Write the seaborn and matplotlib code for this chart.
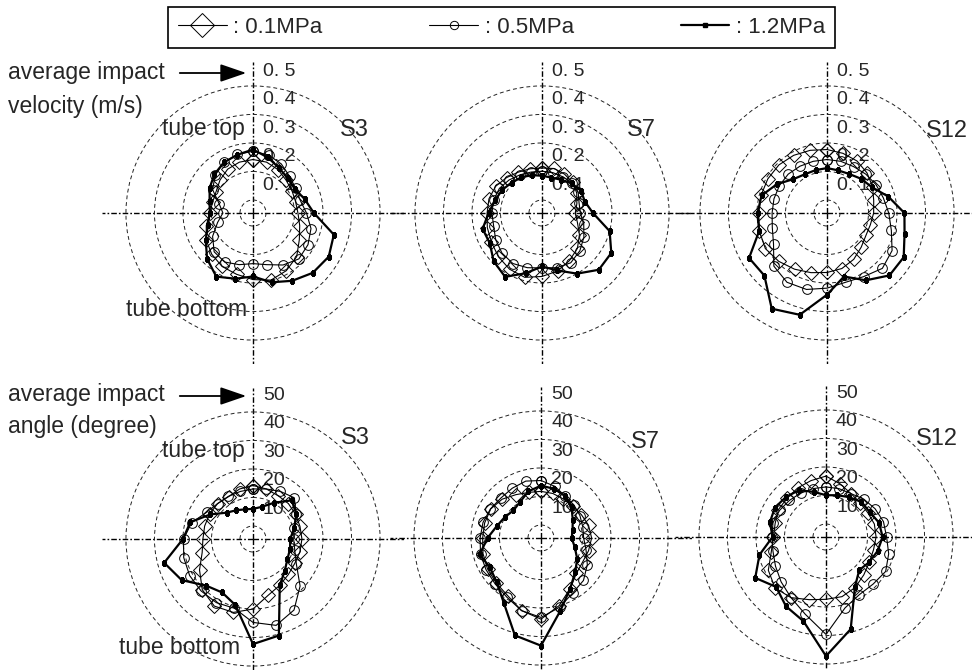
import numpy as np
import pandas as pd
import matplotlib
matplotlib.use("Agg")
import matplotlib.pyplot as plt
import seaborn as sns
from matplotlib.lines import Line2D

# angular position around the tube, degrees clockwise from the tube top
position_deg = np.arange(0, 360, 15)

pressures = ["0.1MPa", "0.5MPa", "1.2MPa"]
sections = ["S3", "S7", "S12"]

# average impact velocity (m/s)
vel_S3_01 = [0.142, 0.139, 0.130, 0.118, 0.112, 0.109, 0.112, 0.124, 0.142, 0.171, 0.188, 0.198,
             0.188, 0.177, 0.171, 0.159, 0.144, 0.124, 0.106, 0.101, 0.104, 0.118, 0.132, 0.139]
vel_S3_05 = [0.171, 0.165, 0.153, 0.136, 0.127, 0.126, 0.142, 0.165, 0.177, 0.182, 0.165, 0.142,
             0.132, 0.142, 0.153, 0.147, 0.118, 0.083, 0.060, 0.077, 0.118, 0.142, 0.159, 0.167]
vel_S3_12 = [0.177, 0.156, 0.137, 0.127, 0.124, 0.142, 0.168, 0.248, 0.261, 0.251, 0.229, 0.206,
             0.177, 0.193, 0.212, 0.182, 0.146, 0.118, 0.106, 0.112, 0.130, 0.146, 0.159, 0.166]

vel_S7_01 = [0.112, 0.116, 0.112, 0.106, 0.095, 0.081, 0.071, 0.083, 0.106, 0.130, 0.147, 0.165,
             0.177, 0.188, 0.182, 0.171, 0.159, 0.153, 0.147, 0.147, 0.142, 0.130, 0.120, 0.115]
vel_S7_05 = [0.101, 0.101, 0.101, 0.104, 0.101, 0.089, 0.089, 0.106, 0.124, 0.142, 0.156, 0.153,
             0.147, 0.153, 0.159, 0.153, 0.142, 0.130, 0.130, 0.130, 0.127, 0.118, 0.109, 0.103]
vel_S7_12 = [0.085, 0.083, 0.089, 0.101, 0.112, 0.110, 0.133, 0.200, 0.235, 0.236, 0.200, 0.163,
             0.142, 0.173, 0.213, 0.194, 0.166, 0.170, 0.142, 0.125, 0.116, 0.105, 0.099, 0.092]

vel_S12_01 = [0.177, 0.171, 0.165, 0.153, 0.139, 0.124, 0.118, 0.112, 0.112, 0.124, 0.142, 0.156,
              0.163, 0.171, 0.182, 0.194, 0.204, 0.200, 0.194, 0.194, 0.194, 0.193, 0.188, 0.182]
vel_S12_05 = [0.142, 0.142, 0.142, 0.147, 0.153, 0.159, 0.171, 0.188, 0.218, 0.229, 0.212, 0.206,
              0.218, 0.232, 0.235, 0.218, 0.171, 0.153, 0.147, 0.147, 0.147, 0.147, 0.144, 0.142]
vel_S12_12 = [0.112, 0.109, 0.112, 0.124, 0.136, 0.177, 0.226, 0.236, 0.265, 0.264, 0.227, 0.185,
              0.241, 0.324, 0.342, 0.265, 0.270, 0.201, 0.198, 0.192, 0.157, 0.122, 0.111, 0.110]

# average impact angle (degree)
ang_S3_01 = [14.2, 13.6, 13.0, 13.0, 12.7, 12.5, 12.6, 12.5, 12.4, 13.0, 14.2, 15.9,
             20.0, 22.1, 22.6, 20.6, 17.1, 13.9, 13.0, 13.0, 13.0, 13.0, 12.6, 13.6]
ang_S3_05 = [13.0, 13.6, 14.7, 15.9, 13.0, 10.4, 9.7, 10.6, 13.0, 18.8, 24.2, 26.8,
             24.7, 20.6, 21.2, 21.2, 21.1, 20.6, 19.8, 17.7, 14.2, 13.0, 12.7, 12.7]
ang_S3_12 = [6.0, 7.1, 10.1, 14.6, 13.0, 10.4, 8.5, 8.9, 9.4, 11.2, 14.2, 30.5,
             32.3, 19.4, 17.1, 18.6, 24.3, 27.7, 20.0, 18.2, 12.7, 8.5, 7.1, 6.2]

ang_S7_01 = [11.8, 11.6, 11.2, 11.2, 11.8, 12.7, 13.2, 12.7, 12.3, 13.0, 15.9, 20.0,
             23.9, 21.8, 18.8, 17.7, 17.1, 16.5, 15.9, 15.9, 15.8, 14.7, 13.0, 12.0]
ang_S7_05 = [15.6, 14.2, 12.4, 11.8, 11.2, 10.6, 10.4, 11.8, 14.2, 16.5, 17.7, 20.6,
             23.3, 21.8, 19.4, 18.2, 17.7, 17.4, 16.8, 16.5, 15.9, 15.3, 15.6, 16.1]
ang_S7_12 = [13.8, 13.3, 12.4, 10.6, 8.3, 6.9, 6.2, 7.7, 10.1, 12.4, 15.9, 21.8,
             33.2, 30.8, 21.6, 17.4, 16.1, 17.7, 14.2, 11.5, 10.1, 9.1, 10.1, 12.4]

ang_S12_01 = [16.8, 14.7, 13.0, 12.4, 12.4, 13.0, 13.0, 12.7, 13.0, 14.2, 15.9, 17.1,
              17.3, 18.2, 20.0, 20.7, 18.8, 15.3, 13.9, 13.9, 14.7, 14.7, 15.3, 15.9]
ang_S12_05 = [13.0, 13.0, 13.0, 14.2, 15.3, 16.3, 16.7, 18.2, 19.6, 18.8, 18.8, 21.2,
              29.6, 23.5, 20.0, 17.7, 15.9, 14.7, 14.4, 14.7, 14.2, 13.6, 13.2, 13.0]
ang_S12_12 = [10.1, 10.6, 11.6, 12.9, 13.1, 14.7, 15.3, 14.2, 13.0, 11.9, 15.7, 28.9,
              37.2, 26.0, 23.5, 20.2, 24.1, 19.6, 14.2, 15.8, 16.1, 15.3, 14.4, 11.8]

vel_ticks = [0.1, 0.2, 0.3, 0.4, 0.5]
vel_tick_labels = ["0. 1", "0. 2", "0. 3", "0. 4", "0. 5"]
ang_ticks = [10, 20, 30, 40, 50]
ang_tick_labels = ["10", "20", "30", "40", "50"]

series = {
    ("vel", "S3"): [vel_S3_01, vel_S3_05, vel_S3_12],
    ("vel", "S7"): [vel_S7_01, vel_S7_05, vel_S7_12],
    ("vel", "S12"): [vel_S12_01, vel_S12_05, vel_S12_12],
    ("ang", "S3"): [ang_S3_01, ang_S3_05, ang_S3_12],
    ("ang", "S7"): [ang_S7_01, ang_S7_05, ang_S7_12],
    ("ang", "S12"): [ang_S12_01, ang_S12_05, ang_S12_12],
}

rows = []
for (qty, sec), vals in series.items():
    for p, v in zip(pressures, vals):
        # close the loop
        th = np.deg2rad(np.append(position_deg, 360))
        rr = np.append(v, v[0])
        for t, r in zip(th, rr):
            rows.append({"qty": qty, "section": sec, "pressure": p, "theta": t, "value": r})
df = pd.DataFrame(rows)

sns.set_theme(style="white")
plt.rcParams["font.family"] = ["Liberation Sans", "DejaVu Sans"]

STYLES = {
    "0.1MPa": dict(marker="D", markersize=7.5, markerfacecolor="none", markeredgecolor="black",
                   markeredgewidth=0.7, linewidth=0.8),
    "0.5MPa": dict(marker="o", markersize=7, markerfacecolor="none", markeredgecolor="black",
                   markeredgewidth=0.7, linewidth=0.8),
    "1.2MPa": dict(marker="s", markersize=3.5, markerfacecolor="black", markeredgecolor="black",
                   linewidth=1.6),
}

W, H = 972, 670
R = 151
fig = plt.figure(figsize=(W / 100, H / 100), dpi=100)

centers = {
    ("vel", "S3"): (253, 213), ("vel", "S7"): (542, 213), ("vel", "S12"): (827, 213),
    ("ang", "S3"): (253, 539), ("ang", "S7"): (541, 538), ("ang", "S12"): (826, 537),
}
scale = {"vel": (-0.0456, 0.484, 0.049), "ang": (-4.56, 48.4, 4.2)}

for (qty, sec), (cx, cy) in centers.items():
    ax = fig.add_axes([(cx - R) / W, (H - cy - R) / H, 2 * R / W, 2 * R / H],
                      projection="polar")
    ax.set_facecolor("none")
    ax.set_theta_zero_location("N")
    ax.set_theta_direction(-1)

    sub = df[(df.qty == qty) & (df.section == sec)]
    for p in pressures:
        d = sub[sub.pressure == p]
        sns.lineplot(data=d, x="theta", y="value", ax=ax, sort=False, estimator=None,
                     color="black", legend=False, zorder=3, **STYLES[p])

    rmin, rmax, off = scale[qty]
    ticks = vel_ticks if qty == "vel" else ang_ticks
    labels = vel_tick_labels if qty == "vel" else ang_tick_labels
    ax.set_ylim(rmin, rmax)
    ax.set_yticks([0] + ticks[:-1])
    ax.set_yticklabels([])
    ax.set_xticks(np.deg2rad([0, 90, 180, 270]))
    ax.set_xticklabels([])
    ax.set_xlabel("")
    ax.set_ylabel("")
    ax.yaxis.grid(True, linestyle=(0, (4, 3)), linewidth=0.7, color="#222222")
    ax.xaxis.grid(True, linestyle=(0, (4, 1.5, 1.2, 1.5)), linewidth=1.0, color="black")
    ax.spines["polar"].set_visible(False)

    for t, lab in zip(ticks, labels):
        ax.annotate(lab, xy=(0, t - off), xytext=(10, 0), textcoords="offset pixels",
                    ha="left", va="center", fontsize=14, zorder=2)

# section labels
for txt, x, y in [("S3", 354, 130), ("S7", 641, 130), ("S12", 947, 131),
                  ("S3", 355, 438), ("S7", 645, 442), ("S12", 937, 439)]:
    fig.text(x / W, 1 - y / H, txt, ha="center", va="center", fontsize=17)

# left-hand annotations
for txt, y in [("average impact", 72), ("velocity (m/s)", 106),
               ("average impact", 394), ("angle (degree)", 426)]:
    fig.text(8 / W, 1 - y / H, txt, ha="left", va="center", fontsize=16.5)
for y in [73, 396]:
    fig.add_artist(matplotlib.patches.FancyArrowPatch(
        (177 / W, 1 - y / H), (249 / W, 1 - y / H), transform=fig.transFigure,
        arrowstyle="-|>,head_length=16,head_width=5.5", mutation_scale=1,
        color="black", linewidth=1.3))
for txt, x, y in [("tube top", 245, 129), ("tube bottom", 247, 310),
                  ("tube top", 245, 451), ("tube bottom", 240, 647)]:
    fig.text(x / W, 1 - y / H, txt, ha="right", va="center", fontsize=16.5)

handles = [Line2D([], [], color="black", **dict(STYLES[p])) for p in pressures]
handles[0].set_markersize(12)
handles[1].set_markersize(6)
leg = fig.legend(handles, [": " + p for p in pressures], loc="center",
                 bbox_to_anchor=(501.5 / W, 1 - 27.5 / H), ncol=3, frameon=True,
                 fancybox=False, edgecolor="black", framealpha=1, fontsize=16,
                 handlelength=2.2, columnspacing=4.8, handletextpad=0.3, borderpad=0.45,
                 borderaxespad=0)
leg.get_frame().set_linewidth(1.2)

fig.savefig("out.png", dpi=100)
